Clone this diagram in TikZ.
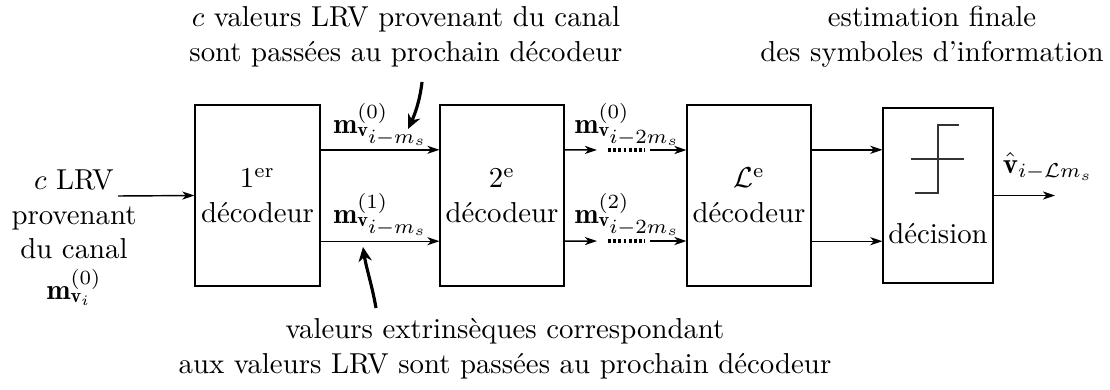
\documentclass[tikz,border=0pt]{standalone}
\usepackage{fontspec}
\usepackage{amsmath}
\usetikzlibrary{arrows.meta,calc}
\begin{document}
\begin{tikzpicture}[x=0.347pt,y=-0.347pt,
  blk/.style={draw,line width=0.4pt,inner sep=0pt,align=center},
  arr/.style={-{Stealth[length=4.2pt,width=2.8pt,inset=1.2pt]},line width=0.5pt},
  bigarr/.style={-{Stealth[length=5pt,width=4.6pt,inset=1.6pt]},line width=1.1pt},
  dots/.style={line width=1.4pt,dash pattern=on 1pt off 0.8pt},
  txt/.style={align=center,inner sep=0pt}]
\useasboundingbox (0,0) rectangle (1110,389);
% blocks
\node[blk,minimum width=43.4pt,minimum height=62.8pt] (b1) at (257.5,195.5) {1\textsuperscript{er}\\décodeur};
\node[blk,minimum width=43.0pt,minimum height=62.8pt] (b2) at (502,195.5) {2\textsuperscript{e}\\décodeur};
\node[blk,minimum width=43.0pt,minimum height=62.8pt] (b3) at (749,195.5) {$\mathcal{L}$\textsuperscript{e}\\décodeur};
\node[blk,minimum width=38.2pt,minimum height=60.7pt] (dec) at (938,195.5) {};
\node[anchor=base,inner sep=0pt] (dtxt) at (938,243) {décision};
% step symbol
\draw[line width=0.4pt,black!80,shift={(dec.center)}] (-23,-2.5) -- (0,-2.5) -- (0,-70.5) -- (21,-70.5);
\draw[line width=0.4pt,black!80,shift={(dec.center)}] (-27,-36.5) -- (26,-36.5);
% connection points
\coordinate (b1o1) at ($(b1.north east)!0.249!(b1.south east)$);
\coordinate (b1o2) at ($(b1.north east)!0.751!(b1.south east)$);
\coordinate (b2o1) at ($(b2.north east)!0.249!(b2.south east)$);
\coordinate (b2o2) at ($(b2.north east)!0.751!(b2.south east)$);
\coordinate (b3o1) at ($(b3.north east)!0.249!(b3.south east)$);
\coordinate (b3o2) at ($(b3.north east)!0.751!(b3.south east)$);
% stage 1 -> 2
\draw[arr] (b1o1) -- (b2.west |- b1o1);
\draw[arr] (b1o2) -- (b2.west |- b1o2);
% stage 2 -> L
\coordinate (m1a) at (597,150); \coordinate (d1a) at (608,150); \coordinate (d1b) at (645,150); \coordinate (m1b) at (650,150);
\coordinate (m2a) at (597,241); \coordinate (d2a) at (608,241); \coordinate (d2b) at (645,241); \coordinate (m2b) at (650,241);
\draw[arr] (b2o1) -- (m1a);
\draw[dots] (d1a) -- (d1b);
\draw[arr] (m1b) -- (b3.west |- m1b);
\draw[arr] (b2o2) -- (m2a);
\draw[dots] (d2a) -- (d2b);
\draw[arr] (m2b) -- (b3.west |- m2b);
% L -> decision
\draw[arr] (b3o1) -- (dec.west |- b3o1);
\draw[arr] (b3o2) -- (dec.west |- b3o2);
% input / output
\node[txt] (intxt) at (74,238) {$c$ LRV\\provenant\\du canal\\[2pt]$\mathbf{m}_{\mathbf{v}_i}^{(0)}$};
\coordinate (inp) at (118,196);
\draw[arr] (inp) -- (b1.west);
\coordinate (outp) at (1055,195.5);
\draw[arr] (dec.east) -- (outp);
\node[anchor=base,inner sep=0pt] (vhat) at (1048,173) {$\hat{\mathbf{v}}_{i-\mathcal{L}m_s}$};
% arrow labels
\node[anchor=base,inner sep=0pt] (l1) at (381,133) {$\mathbf{m}_{\mathbf{v}_{\scriptstyle i-m_s}}^{(0)}$};
\node[anchor=base,inner sep=0pt] (l2) at (381,223) {$\mathbf{m}_{\mathbf{v}_{\scriptstyle i-m_s}}^{(1)}$};
\node[anchor=base,inner sep=0pt] (l3) at (628,133) {$\mathbf{m}_{\mathbf{v}_{\scriptstyle i-2m_s}}^{(0)}$};
\node[anchor=base,inner sep=0pt] (l4) at (628,223) {$\mathbf{m}_{\mathbf{v}_{\scriptstyle i-2m_s}}^{(2)}$};
% annotations
\node[txt] (toptxt) at (406,37) {$c$ valeurs LRV provenant du canal\\sont passées au prochain décodeur};
\node[txt] (righttxt) at (932,37) {estimation finale\\des symboles d'information};
\node[txt] (bottxt) at (505,349) {valeurs extrinsèques correspondant\\aux valeurs LRV sont passées au prochain décodeur};
\coordinate (ta) at (422,82);
\coordinate (tb) at (408,129);
\draw[bigarr] (ta) .. controls (420,100) and (415,114) .. (tb);
\coordinate (ba) at (376,308);
\coordinate (bb) at (363,247);
\draw[bigarr] (ba) .. controls (372,285) and (366,267) .. (bb);
\end{tikzpicture}
\end{document}
